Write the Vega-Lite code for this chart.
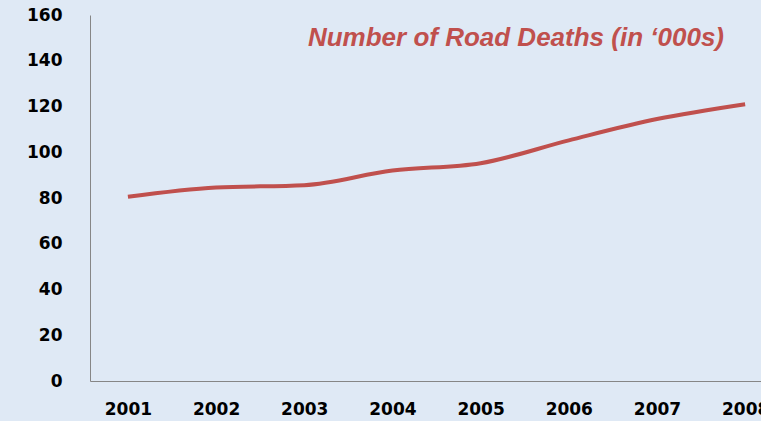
{
  "$schema": "https://vega.github.io/schema/vega-lite/v6.json",
  "width": 671,
  "height": 366,
  "autosize": {"type": "none"},
  "padding": {"left": 90, "top": 15, "right": 0, "bottom": 40},
  "background": "#dfe9f5",
  "title": {
    "text": "Number of Road Deaths (in ‘000s)",
    "anchor": "end",
    "frame": "group",
    "orient": "top",
    "offset": -45,
    "dx": -37,
    "font": "Liberation Sans",
    "fontSize": 26,
    "fontWeight": "bold",
    "fontStyle": "italic",
    "color": "#c0504d"
  },
  "config": {
    "view": {"stroke": null},
    "axis": {
      "grid": false,
      "ticks": false,
      "domainColor": "#868686",
      "domainWidth": 1,
      "labelFont": "DejaVu Sans",
      "labelFontWeight": "bold",
      "labelFontSize": 17,
      "labelColor": "#000000",
      "title": null
    }
  },
  "data": {
    "values": [
      {"year": 2001, "deaths": 80.5},
      {"year": 2002, "deaths": 84.6},
      {"year": 2003, "deaths": 85.6},
      {"year": 2004, "deaths": 92},
      {"year": 2005, "deaths": 95.2},
      {"year": 2006, "deaths": 105.2},
      {"year": 2007, "deaths": 114.5},
      {"year": 2008, "deaths": 121}
    ]
  },
  "mark": {"type": "line", "color": "#c0504d", "strokeWidth": 4, "interpolate": "monotone", "clip": false},
  "encoding": {
    "x": {
      "field": "year",
      "type": "quantitative",
      "scale": {"domain": [2000.57, 2008.18], "nice": false, "zero": false},
      "axis": {"values": [2001, 2002, 2003, 2004, 2005, 2006, 2007, 2008], "format": "d", "labelPadding": 20, "labelFlush": false}
    },
    "y": {
      "field": "deaths",
      "type": "quantitative",
      "scale": {"domain": [0, 160], "nice": false},
      "axis": {"values": [0, 20, 40, 60, 80, 100, 120, 140, 160], "labelPadding": 28}
    }
  }
}
